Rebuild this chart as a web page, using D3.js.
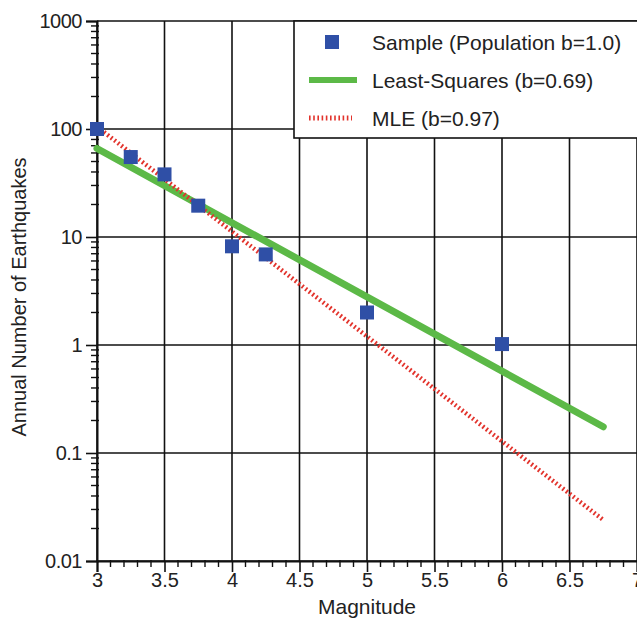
<!DOCTYPE html>
<html><head><meta charset="utf-8">
<script src="https://cdn.jsdelivr.net/npm/d3@7"></script>
<style>
html,body{margin:0;padding:0;background:#fff;overflow:hidden;}
text{font-family:"Liberation Sans",Arial,Helvetica,sans-serif;fill:#222;}
</style></head>
<body><svg id="c" width="637" height="619"></svg>
<script>
// Data
const magnitudes = [3.0, 3.25, 3.5, 3.75, 4.0, 4.25, 5.0, 6.0];
const counts     = [100, 55, 38, 19.5, 8.2, 6.9, 2.0, 1.02];
const lsqM = [3.0, 6.75];
const lsqN = [66, 0.175];
const mleM = [3.0, 6.75];
const mleN = [105, 0.024];
const xTicks = [3, 3.5, 4, 4.5, 5, 5.5, 6, 6.5, 7];
const yTicks = [0.01, 0.1, 1, 10, 100, 1000];
const yTickLabels = ["0.01", "0.1", "1", "10", "100", "1000"];
const legendLabels = ["Sample (Population b=1.0)", "Least-Squares (b=0.69)", "MLE (b=0.97)"];

const svg = d3.select("#c");
const L = 97, R = 637, T = 21, B = 561;
const x = d3.scaleLinear().domain([3, 7]).range([L, R]);
const y = d3.scaleLog().domain([0.01, 1000]).range([B, T]);

const blue = "#2f4fa6", green = "#5cb947", red = "#e2332c";
const fs = 20;

// grid
const g = svg.append("g");
g.selectAll(".gx").data(xTicks).join("line")
  .attr("x1", d => x(d)).attr("x2", d => x(d)).attr("y1", T).attr("y2", B)
  .attr("stroke", "#111").attr("stroke-width", 1.6);
g.selectAll(".gy").data(yTicks).join("line")
  .attr("x1", L).attr("x2", R).attr("y1", d => y(d)).attr("y2", d => y(d))
  .attr("stroke", "#111").attr("stroke-width", 1.6);

// minor ticks
const minorX = d3.range(30, 70).filter(v => v % 5 !== 0).map(v => v / 10);
g.selectAll(".mx").data(minorX).join("line")
  .attr("x1", d => x(d)).attr("x2", d => x(d)).attr("y1", B - 1).attr("y2", B + 6)
  .attr("stroke", "#111").attr("stroke-width", 1.4);
const minorY = [];
yTicks.slice(0, -1).forEach(t => { for (let k = 2; k <= 9; k++) minorY.push(t * k); });
g.selectAll(".my").data(minorY).join("line")
  .attr("x1", L - 6).attr("x2", L + 2).attr("y1", d => y(d)).attr("y2", d => y(d))
  .attr("stroke", "#111").attr("stroke-width", 1.4);

// axes
const xAxis = d3.axisBottom(x).tickValues(xTicks).tickSize(11).tickFormat(d3.format("~g"));
const ax = svg.append("g").attr("transform", `translate(0,${B})`).call(xAxis);
ax.select(".domain").attr("stroke", "#111").attr("stroke-width", 2);
ax.selectAll(".tick line").attr("stroke", "#111").attr("stroke-width", 1.6);
ax.selectAll(".tick text").attr("font-size", fs).attr("fill", "#222").attr("dy", "0.6em")
  .attr("font-family", "Liberation Sans, Arial, sans-serif");

const yAxis = d3.axisLeft(y).tickValues(yTicks).tickSize(11).tickFormat((d, i) => yTickLabels[i]);
const ay = svg.append("g").attr("transform", `translate(${L},0)`).call(yAxis);
ay.select(".domain").attr("stroke", "#111").attr("stroke-width", 2);
ay.selectAll(".tick line").attr("stroke", "#111").attr("stroke-width", 1.6);
ay.selectAll(".tick text").attr("font-size", fs).attr("fill", "#222").attr("x", -15)
  .attr("font-family", "Liberation Sans, Arial, sans-serif").attr("letter-spacing", "-0.5");

// lines
const line = d3.line().x(d => x(d[0])).y(d => y(d[1]));
svg.append("path").datum(lsqM.map((m, i) => [m, lsqN[i]]))
  .attr("d", line).attr("fill", "none").attr("stroke", green).attr("stroke-width", 7).attr("stroke-linecap", "round");
svg.append("path").datum(mleM.map((m, i) => [m, mleN[i]]))
  .attr("d", line).attr("fill", "none").attr("stroke", red).attr("stroke-width", 4.5)
  .attr("stroke-dasharray", "1.8,2.6");

// points
const s = 14;
svg.selectAll(".pt").data(magnitudes).join("rect")
  .attr("x", (d) => x(d) - s / 2).attr("y", (d, i) => y(counts[i]) - s / 2)
  .attr("width", s).attr("height", s).attr("fill", blue);

// legend
const lg = svg.append("g");
lg.append("rect").attr("x", 294).attr("y", T).attr("width", 400).attr("height", 117)
  .attr("fill", "#fff").attr("stroke", "#111").attr("stroke-width", 1.6);
lg.append("rect").attr("x", 325).attr("y", 35).attr("width", 14).attr("height", 14).attr("fill", blue);
lg.append("line").attr("x1", 309).attr("x2", 357).attr("y1", 80).attr("y2", 80)
  .attr("stroke", green).attr("stroke-width", 6);
lg.append("line").attr("x1", 309).attr("x2", 352).attr("y1", 118).attr("y2", 118)
  .attr("stroke", red).attr("stroke-width", 5).attr("stroke-dasharray", "1.6,2.6");
lg.selectAll(".lt").data(legendLabels).join("text")
  .attr("x", 372).attr("y", (d, i) => [42, 80, 118][i]).attr("dy", "0.36em")
  .attr("font-size", 21).text(d => d);

// axis titles
svg.append("text").attr("x", (L + R) / 2).attr("y", 614).attr("text-anchor", "middle")
  .attr("font-size", 21).text("Magnitude");
svg.append("text").attr("transform", `translate(26,297) rotate(-90)`).attr("text-anchor", "middle")
  .attr("font-size", fs).text("Annual Number of Earthquakes");
</script></body></html>
